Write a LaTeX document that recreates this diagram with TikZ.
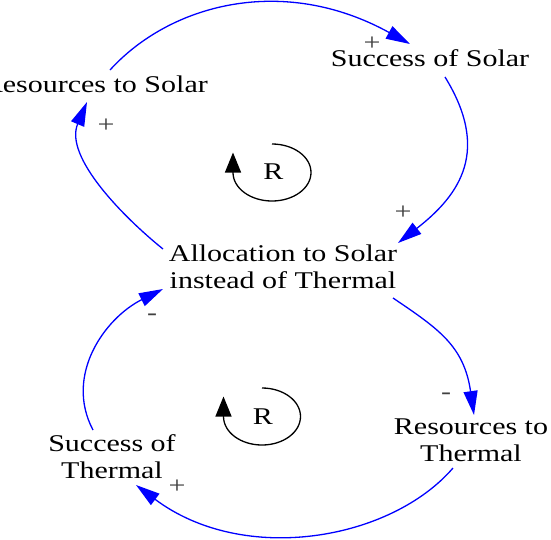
\documentclass[tikz,border=0pt]{standalone}
\usepackage{fontspec}
\setmainfont{Liberation Serif}[FakeStretch=1.25]
\usetikzlibrary{arrows.meta}
\begin{document}
\begin{tikzpicture}[x=1pt,y=1pt,
  lbl/.style={font=\fontsize{24}{27}\selectfont, inner sep=0pt, align=center, text=black},
  pol/.style={font=\fontsize{24}{27}\selectfont, inner sep=0pt, text=black!75},
  conn/.style={draw=blue, line width=1.3pt, -{Triangle[length=24pt,width=14pt]}},
  loopind/.style={draw=black, line width=1.3pt, -{Triangle[length=20pt,width=16pt]}}
]
\useasboundingbox (0,0) rectangle (551,-539);

% variables
\node[lbl, anchor=base east] (rs) at (208,-92) {Resources to Solar};
\node[lbl, anchor=base] (ss) at (430,-66) {Success of Solar};
\node[lbl] (al) at (283,-267) {Allocation to Solar\\instead of Thermal};
\node[lbl] (rt) at (471,-440) {Resources to\\Thermal};
\node[lbl] (st) at (112,-457) {Success of\\Thermal};

% loop indicators
\node[lbl, anchor=base] (r1) at (273.5,-179) {R};
\node[lbl, anchor=base] (r2) at (263,-424) {R};
\coordinate (r1top) at (272,-144);
\coordinate (r2top) at (262,-388);
\draw[loopind] (r1top) arc[start angle=90, end angle=-180, x radius=39, y radius=28.5] -- ++(0,20);
\draw[loopind] (r2top) arc[start angle=90, end angle=-180, x radius=38.5, y radius=28.5] -- ++(0,20);

% connector end points
\coordinate (rs-o) at (110,-70);
\coordinate (ss-i) at (410,-44);
\coordinate (ss-o) at (445,-77);
\coordinate (al-i1) at (398,-243);
\coordinate (al-o1) at (163,-249);
\coordinate (rs-i) at (87,-102);
\coordinate (al-o2) at (393,-298);
\coordinate (rt-i) at (474,-415);
\coordinate (rt-o) at (453,-468);
\coordinate (st-i) at (136,-485);
\coordinate (st-o) at (93,-430);
\coordinate (al-i2) at (163,-289);

\draw[conn] (rs-o) .. controls (170,-4) and (283,26) .. (ss-i);
\draw[conn] (ss-o) .. controls (490,-150) and (461,-194) .. (al-i1);
\draw[conn] (al-o1) .. controls (124.5,-218) and (63.6,-157) .. (rs-i);
\draw[conn] (al-o2) .. controls (438.6,-328.8) and (464,-346) .. (rt-i);
\draw[conn] (rt-o) .. controls (391,-540) and (244,-566) .. (st-i);
\draw[conn] (st-o) .. controls (64,-375) and (105,-318) .. (al-i2);

% polarities
\node[pol] (p1) at (372,-44) {+};
\node[pol] (p2) at (403,-213) {+};
\node[pol] (p3) at (106,-126) {+};
\node[pol] (p4) at (446,-396) {-};
\node[pol] (p5) at (177,-487) {+};
\node[pol] (p6) at (152,-317) {-};
\end{tikzpicture}
\end{document}
